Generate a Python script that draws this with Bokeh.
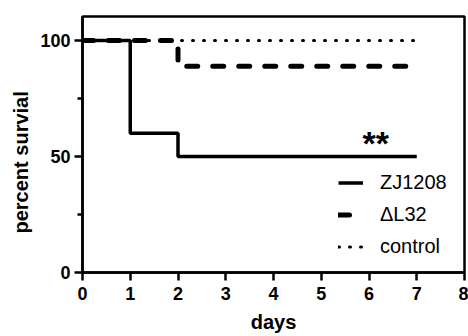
from bokeh.plotting import figure
from bokeh.models import Range1d, FixedTicker, Legend, LegendItem, Title
from bokeh.core.properties import value
from bokeh.embed import file_html
from bokeh.resources import INLINE

# Kaplan-Meier step data
zj_days = [0, 1, 2, 7]
zj_surv = [100, 60, 50, 50]
dl_days = [0, 2, 7]
dl_surv = [100, 88.9, 88.9]
ctl_days = [0, 7]
ctl_surv = [100, 100]
series_names = ["ZJ1208", "ΔL32", "control"]
x_ticks = [0, 1, 2, 3, 4, 5, 6, 7, 8]
y_ticks = [0, 50, 100]
y_minor = [25, 75]
sig_x = [6.14]
sig_y = [55.6]
sig_text = ["**"]

FONT = "Liberation Sans"

p = figure(width=468, height=336, output_backend="svg", toolbar_location=None,
           x_range=Range1d(0, 8), y_range=Range1d(0, 110.3),
           min_border_left=82, min_border_right=4, min_border_top=16, min_border_bottom=64)
p.background_fill_color = "white"
p.border_fill_color = "white"
p.outline_line_color = "black"
p.outline_line_width = 2.5
p.xgrid.visible = False
p.ygrid.visible = False

r_zj = p.step(zj_days, zj_surv, mode="after", line_color="black", line_width=3.5)
r_dl = p.step(dl_days, dl_surv, mode="after", line_color="black", line_width=5,
              line_dash="11 15", line_cap="round")
r_ct = p.step(ctl_days, ctl_surv, mode="after", line_color="black", line_width=3,
              line_dash="1 10", line_cap="round")

p.text(x=sig_x, y=sig_y, text=sig_text, text_font=value(FONT), text_font_style="bold",
       text_font_size="34px", text_align="center", text_baseline="alphabetic",
       text_color="black")

for ax in (p.xaxis[0], p.yaxis[0]):
    ax.axis_line_width = 2.5
    ax.axis_line_color = "black"
    ax.major_tick_line_width = 2.5
    ax.major_tick_line_color = "black"
    ax.minor_tick_line_width = 2.5
    ax.minor_tick_line_color = "black"
    ax.major_tick_in = 0
    ax.major_tick_out = 8
    ax.minor_tick_in = 0
    ax.major_label_text_font = FONT
    ax.major_label_text_font_style = "bold"
    ax.major_label_text_font_size = "18px"
    ax.major_label_text_color = "black"

p.xaxis.ticker = FixedTicker(ticks=x_ticks)
p.xaxis.minor_tick_out = 0
p.xaxis.major_label_standoff = 6
p.xaxis.axis_label = "days"
p.xaxis.axis_label_text_font = FONT
p.xaxis.axis_label_text_font_style = "bold"
p.xaxis.axis_label_text_font_size = "20px"
p.xaxis.axis_label_text_color = "black"
p.xaxis.axis_label_standoff = 8

p.yaxis.ticker = FixedTicker(ticks=y_ticks, minor_ticks=y_minor)
p.yaxis.minor_tick_out = 5
p.yaxis.major_label_standoff = 4

ylab = Title(text="percent survial", align="left", offset=39, text_font=FONT,
             text_font_style="bold", text_font_size="20px", text_color="black",
             standoff=11)
p.add_layout(ylab, "left")

legend = Legend(items=[LegendItem(label=series_names[0], renderers=[r_zj]),
                       LegendItem(label=series_names[1], renderers=[r_dl]),
                       LegendItem(label=series_names[2], renderers=[r_ct])],
                location=(256, 14), padding=0, margin=0, spacing=9,
                glyph_width=25, glyph_height=23, label_height=23, label_standoff=17,
                label_text_font=FONT, label_text_font_size="20px",
                label_text_color="black",
                border_line_color=None, background_fill_alpha=0)
p.add_layout(legend, "center")

open("out.html", "w").write(file_html(p, INLINE))
